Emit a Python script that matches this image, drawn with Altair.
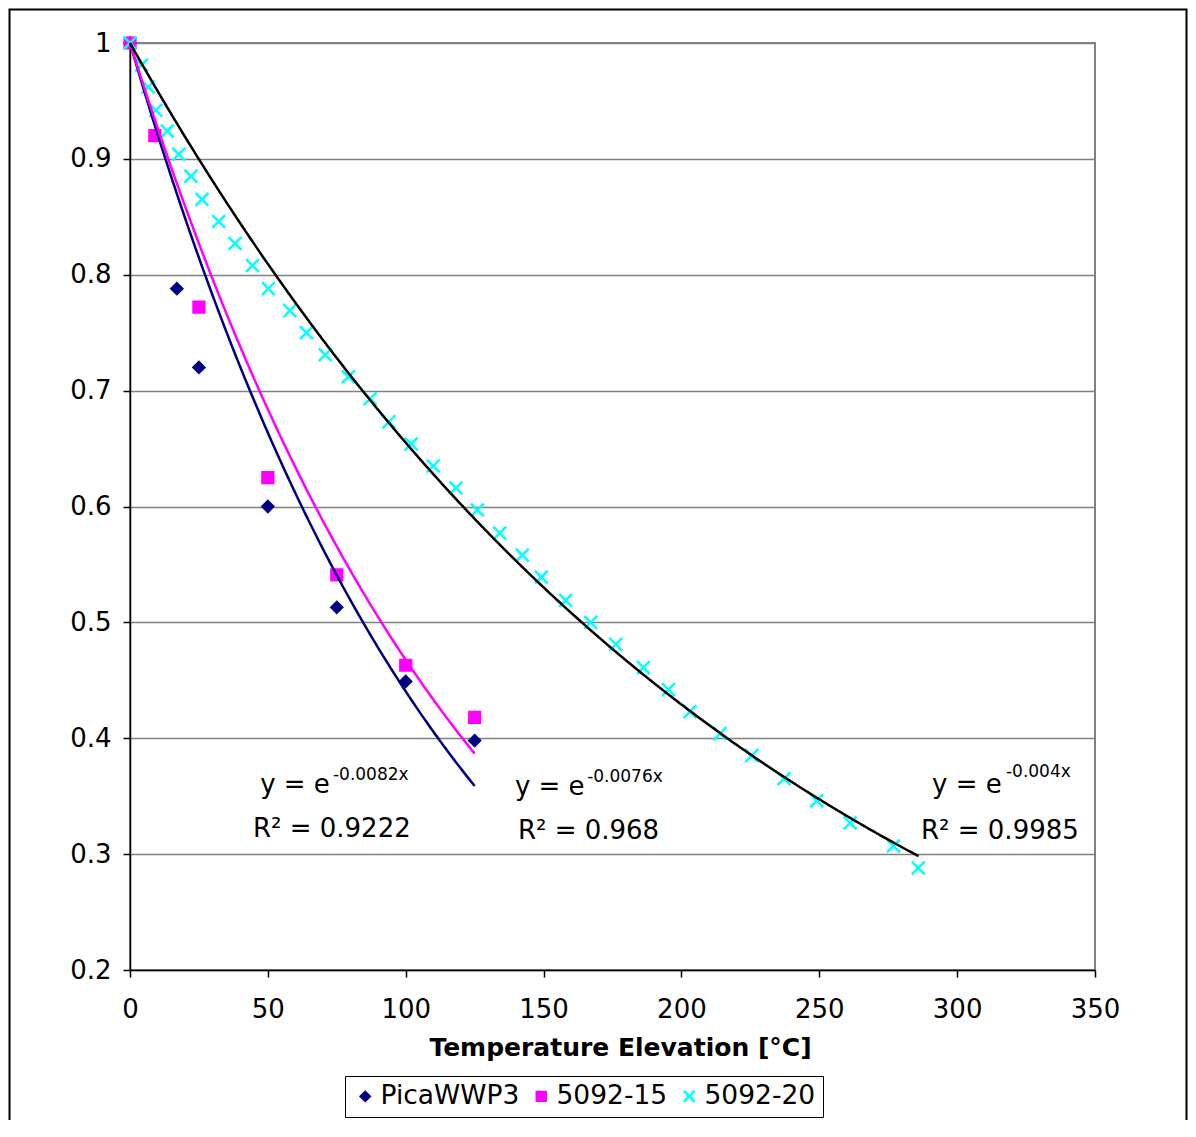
import altair as alt
import pandas as pd

# ---------------- data ----------------
SERIES = ["PicaWWP3", "5092-15", "5092-20"]
POINT_COLORS = ["#000080", "#FF00FF", "#00FFFF"]
POINT_SHAPES = ["diamond", "square", "M-1.2,-1.2L1.2,1.2M-1.2,1.2L1.2,-1.2"]

PICA_X = [0, 17, 25, 50, 75, 100, 125]
PICA_Y = [1.0, 0.788, 0.720, 0.600, 0.513, 0.449, 0.398]

S15_X = [0, 9, 25, 50, 75, 100, 125]
S15_Y = [1.0, 0.920, 0.772, 0.625, 0.541, 0.463, 0.418]

S20_X = [0, 4.2, 6.6, 9.4, 13.5, 17.7, 22.1, 26.1, 32.2, 38.1, 44.4, 50.2,
         58.0, 64.0, 70.8, 79.2, 87.1, 93.9, 102.0, 110.0, 118.2, 126.0,
         134.1, 142.3, 149.2, 158.0, 167.1, 176.2, 186.2, 195.3, 203.1,
         214.0, 225.5, 237.2, 249.1, 261.2, 276.9, 285.9]
S20_Y = [1.0, 0.981, 0.962, 0.942, 0.924, 0.904, 0.885, 0.865, 0.846, 0.827,
         0.808, 0.788, 0.769, 0.750, 0.731, 0.712, 0.693, 0.673, 0.654, 0.635,
         0.616, 0.597, 0.577, 0.558, 0.539, 0.519, 0.500, 0.481, 0.461, 0.442,
         0.423, 0.404, 0.385, 0.365, 0.346, 0.327, 0.307, 0.288]

# exponential trendlines y = exp(k x), as drawn
TREND_K = [-0.0082, -0.0076, -0.00423]
TREND_XMAX = [125, 125, 286]
TREND_COLORS = ["#000080", "#FF00FF", "#000000"]

# trendline labels
ANN_MAIN = ["y = e", "y = e", "y = e"]
ANN_MAIN_X = [47.2, 139.6, 290.9]
ANN_MAIN_Y = [0.3527, 0.3510, 0.3527]
ANN_EXP = ["-0.0082x", "-0.0076x", "-0.004x"]
ANN_EXP_X = [73.6, 165.8, 317.7]
ANN_EXP_Y = [0.3640, 0.3622, 0.3666]
ANN_R2 = ["R\u00b2 = 0.9222", "R\u00b2 = 0.968", "R\u00b2 = 0.9985"]
ANN_R2_X = [44.6, 140.7, 286.9]
ANN_R2_Y = [0.3148, 0.3130, 0.3130]

X_TICKS = [0, 50, 100, 150, 200, 250, 300, 350]
Y_TICKS = [0.2, 0.3, 0.4, 0.5, 0.6, 0.7, 0.8, 0.9, 1.0]

FONT = "DejaVu Sans"

# ---------------- tables ----------------
rows = []
for name, xs, ys in zip(SERIES, [PICA_X, S15_X, S20_X], [PICA_Y, S15_Y, S20_Y]):
    for xv, yv in zip(xs, ys):
        rows.append({"series": name, "x": xv, "y": yv})
pts = pd.DataFrame(rows)

ann_main = pd.DataFrame({"t": ANN_MAIN, "x": ANN_MAIN_X, "y": ANN_MAIN_Y})
ann_exp = pd.DataFrame({"t": ANN_EXP, "x": ANN_EXP_X, "y": ANN_EXP_Y})
ann_r2 = pd.DataFrame({"t": ANN_R2, "x": ANN_R2_X, "y": ANN_R2_Y})

x_scale = alt.Scale(domain=[0, 350], nice=False, zero=False)
y_scale = alt.Scale(domain=[0.2, 1.0], nice=False, zero=False)

x_axis = alt.Axis(
    values=X_TICKS, title="Temperature Elevation [°C]", grid=False,
    tickSize=7, tickColor="black", tickWidth=1.5,
    domainColor="black", domainWidth=1.5,
    labelFontSize=26, labelFont=FONT, labelColor="black", labelPadding=19,
    labelFlush=False, labelOverlap=False,
    titleFontSize=25, titleFont=FONT, titleFontWeight="bold", titleColor="black",
    titleY=85, titleX=490, titleBaseline="alphabetic", titleAlign="center",
)
y_axis = alt.Axis(
    values=Y_TICKS, format=".1~f", title=None, grid=True,
    gridColor="#808080", gridWidth=1.5,
    tickSize=7, tickColor="black", tickWidth=1.5,
    domainColor="black", domainWidth=1.5,
    labelFontSize=26, labelFont=FONT, labelColor="black", labelPadding=12,
    labelFlush=False, labelOverlap=False,
)

leg = alt.Legend(
    title=None, orient="none", legendX=215, legendY=1033,
    direction="horizontal", columns=3,
    strokeColor="black", padding=7, symbolSize=80, symbolStrokeWidth=2.5,
    labelFontSize=26.5, labelFont=FONT, labelColor="black",
    labelOffset=2, columnPadding=8, symbolOffset=0, labelLimit=400,
)

points = alt.Chart(pts).mark_point(size=115, strokeWidth=2.5, opacity=1, filled=True).encode(
    x=alt.X("x:Q", scale=x_scale, axis=x_axis),
    y=alt.Y("y:Q", scale=y_scale, axis=y_axis),
    shape=alt.Shape("series:N", scale=alt.Scale(domain=SERIES, range=POINT_SHAPES), legend=leg),
    fill=alt.Fill("series:N", scale=alt.Scale(domain=SERIES, range=POINT_COLORS), legend=leg),
    stroke=alt.Stroke("series:N", scale=alt.Scale(domain=SERIES, range=POINT_COLORS), legend=leg),
)

layers = [points]
for k, xmax, col in zip(TREND_K, TREND_XMAX, TREND_COLORS):
    line = alt.Chart(alt.sequence(0, xmax + 0.25, 0.5, as_="x")).transform_calculate(
        y=f"exp({k} * datum.x)"
    ).mark_line(color=col, strokeWidth=2.5).encode(
        x=alt.X("x:Q", scale=x_scale),
        y=alt.Y("y:Q", scale=y_scale),
    )
    layers.append(line)

main_txt = alt.Chart(ann_main).mark_text(
    align="left", baseline="alphabetic", fontSize=26, font=FONT, color="black"
).encode(x=alt.X("x:Q", scale=x_scale), y=alt.Y("y:Q", scale=y_scale), text="t:N")
exp_txt = alt.Chart(ann_exp).mark_text(
    align="left", baseline="alphabetic", fontSize=17, font=FONT, color="black"
).encode(x=alt.X("x:Q", scale=x_scale), y=alt.Y("y:Q", scale=y_scale), text="t:N")
r2_txt = alt.Chart(ann_r2).mark_text(
    align="left", baseline="alphabetic", fontSize=26, font=FONT, color="black"
).encode(x=alt.X("x:Q", scale=x_scale), y=alt.Y("y:Q", scale=y_scale), text="t:N")
layers += [main_txt, exp_txt, r2_txt]

border = alt.Chart(pd.DataFrame({"a": [0]})).mark_rect(
    fillOpacity=0, stroke="black", strokeWidth=2, clip=False
).encode(x=alt.value(-120.5), x2=alt.value(1056.5), y=alt.value(-33.5), y2=alt.value(1100))
layers.append(border)

chart = alt.layer(*layers).properties(
    width=965, height=927,
    autosize=alt.AutoSizeParams(type="none"),
    padding={"left": 122, "top": 35, "right": 93, "bottom": 150},
    background="white",
).configure(font=FONT).configure_view(stroke="#808080", strokeWidth=2)

chart.save("out.html", embed_options={"renderer": "svg", "actions": False})
